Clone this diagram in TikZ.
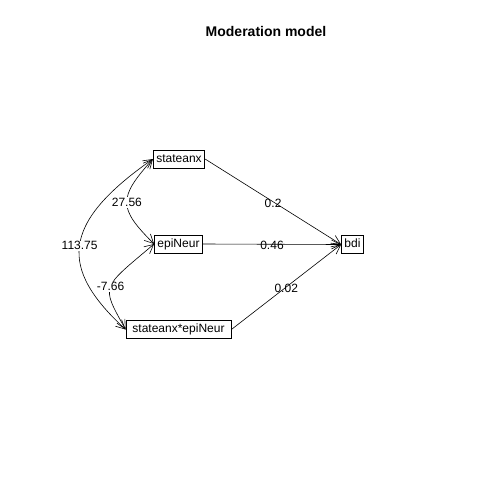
\documentclass[tikz,border=0pt]{standalone}
\usepackage{fontspec}
\setmainfont{Liberation Sans}
\usetikzlibrary{arrows.meta}
\tikzset{
    var/.style={draw, line width=0.8pt, font=\fontsize{12}{14}\selectfont,
        inner xsep=3pt, inner ysep=3pt, text height=9pt, text depth=3pt},
    wt/.style={font=\fontsize{12}{14}\selectfont, inner sep=1pt},
    cov/.style={font=\fontsize{12}{14}\selectfont, fill=white, inner sep=1pt}
}
\begin{document}
\begin{tikzpicture}[x=1pt, y=-1pt, line width=0.6pt, >={Straight Barb[length=9pt,width=9pt]}]
\useasboundingbox (0,0) rectangle (504,504);
\node[font=\bfseries\fontsize{14}{16}\selectfont] (title) at (266,31) {Moderation model};

\node[var] (sa) at (179,159) {stateanx};
\node[var] (en) at (178.5,244) {epiNeur};
\node[var, minimum width=105pt] (int) at (178.5,329.5) {stateanx*epiNeur};
\node[var] (bdi) at (352.5,244.5) {bdi};

% regression weights
\foreach \v/\w in {sa/0.2, en/0.46, int/0.02}
{
    \draw[->] (\v.east) -- (bdi.west) node[wt, pos=.5, yshift=-1.5pt]{\w};
}

% covariances
\draw[<->] (sa.west) .. controls +(-35,39) and +(-36,-36) .. (en.west) node[cov, pos=.5]{27.56};
\draw[<->] (sa.west) .. controls +(-93,65) and +(-66,-61) .. (int.west) node[cov, pos=.5]{113.75};
\draw[<->] (en.west) .. controls +(-53,45) and +(-25,-45) .. (int.west) node[cov, pos=.5]{-7.66};

\end{tikzpicture}
\end{document}
